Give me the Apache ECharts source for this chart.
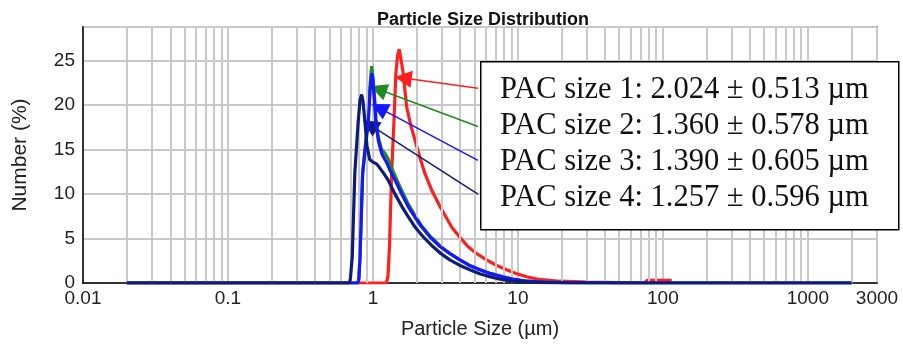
<!DOCTYPE html>
<html>
<head>
<meta charset="utf-8">
<script src="https://cdn.jsdelivr.net/npm/echarts@6/dist/echarts.min.js"></script>
<style>
  html, body {margin: 0; padding: 0; background: #fff;}
  #chart {width: 903px; height: 345px;}
</style>
</head>
<body>
<div id="chart"></div>
<script>
// PAC size 1 (red)
const pac1Size = [0.02, 1.24, 1.27, 1.30, 1.346, 1.395, 1.44, 1.48, 1.518, 1.56, 1.618, 1.707, 1.82, 1.948, 2.1, 2.28, 2.55, 2.9, 3.2, 3.49, 4.0, 4.52, 5.2, 6.08, 7.1, 8.36, 9.8, 11.5, 14, 19.5, 30, 50, 75, 78, 115];
const pac1Num = [0, 0, 0.8, 4, 12.4, 18, 23.6, 25.6, 26.3, 25.2, 23.6, 19.85, 17.8, 16.1, 14.2, 12.35, 10.4, 8.6, 7.4, 6.3, 5.1, 4.1, 3.3, 2.6, 2.0, 1.5, 1.05, 0.7, 0.4, 0.2, 0.1, 0.05, 0.05, 0.3, 0.3];

// PAC size 2 (green) and 3 (blue) share bins
const pac23Size = [0.02, 0.79, 0.80, 0.814, 0.849, 0.89, 0.928, 0.955, 0.98, 1.0, 1.025, 1.049, 1.09, 1.148, 1.18, 1.22, 1.27, 1.31, 1.418, 1.58, 1.75, 1.95, 2.17, 2.5, 2.9, 3.4, 3.98, 4.6, 5.47, 6.5, 7.87, 9.5, 11.5, 15, 22, 60, 2000];
const pac2Num = [0, 0, 0.5, 2.8, 12.2, 15.8, 18.5, 22.3, 24.4, 23.2, 21, 18.4, 16.4, 15.0, 14.8, 14.5, 14.0, 13.4, 12.1, 10.4, 8.9, 7.6, 6.4, 5.2, 4.2, 3.3, 2.6, 2.0, 1.5, 1.05, 0.7, 0.4, 0.2, 0.1, 0.05, 0.02, 0];
const pac3Num = [0, 0, 0.5, 2.9, 12.4, 15.5, 18, 21.5, 23.6, 22.8, 20.5, 18, 16.0, 14.6, 14.2, 13.8, 13.2, 12.7, 11.6, 10.0, 8.6, 7.4, 6.3, 5.1, 4.1, 3.3, 2.6, 2.0, 1.5, 1.05, 0.7, 0.4, 0.2, 0.1, 0.05, 0.02, 0];

// PAC size 4 (navy)
const pac4Size = [0.02, 0.69, 0.70, 0.72, 0.75, 0.79, 0.815, 0.836, 0.855, 0.88, 0.91, 0.95, 1.0, 1.06, 1.12, 1.19, 1.27, 1.42, 1.585, 1.76, 1.95, 2.25, 2.59, 2.95, 3.39, 3.95, 4.66, 5.45, 6.41, 7.7, 9.2, 12, 16, 24, 2000];
const pac4Num = [0, 0, 0.6, 2.9, 12.4, 18, 20.6, 21.2, 20.4, 18.2, 15.4, 13.9, 13.6, 13.4, 12.9, 12.3, 11.6, 10.0, 8.6, 7.4, 6.3, 5.1, 4.1, 3.3, 2.6, 2.0, 1.5, 1.05, 0.7, 0.4, 0.2, 0.1, 0.05, 0, 0];

const labels = [
  'PAC size 1: 2.024 \u00b1 0.513 \u00b5m',
  'PAC size 2: 1.360 \u00b1 0.578 \u00b5m',
  'PAC size 3: 1.390 \u00b1 0.605 \u00b5m',
  'PAC size 4: 1.257 \u00b1 0.596 \u00b5m'
];
const colors = ['#ff1f1f', '#1e8c1e', '#1616ff', '#0c1c78'];

// arrows: tail at the box, head on the curve  [size, number]
const arrowTail = [[5.3, 21.9], [5.3, 17.6], [5.3, 13.8], [5.3, 10.0]];
const arrowHead = [[1.618, 23.05], [1.09, 21.8], [1.105, 19.7], [0.954, 17.8]];

// minor log grid (2..9 per decade)
const minorGrid = [];
[0.01, 0.1, 1, 10, 100, 1000].forEach(d => {
  for (let k = 2; k <= 9; k++) {
    const v = +(d * k).toPrecision(3);
    if (v < 3000) minorGrid.push(v);
  }
});

const zip = (xs, ys) => xs.map((x, i) => [x, ys[i]]);
const seriesData = [
  zip(pac1Size, pac1Num),
  zip(pac23Size, pac2Num),
  zip(pac23Size, pac3Num),
  zip(pac4Size, pac4Num)
];

const gridColor = '#c9c9c9';
const sans = 'Liberation Sans, Arial, sans-serif';

const series = [{
  type: 'line',
  data: [],
  z: 1,
  silent: true,
  markLine: {
    silent: true,
    symbol: 'none',
    label: {show: false},
    lineStyle: {color: gridColor, width: 2, type: 'solid'},
    data: minorGrid.map(v => ({xAxis: v}))
  }
}];

seriesData.forEach((d, i) => {
  series.push({
    name: labels[i],
    type: 'line',
    data: d,
    showSymbol: false,
    symbol: 'none',
    z: 3 + i,
    lineStyle: {color: colors[i], width: 3.2},
    itemStyle: {color: colors[i]},
    markLine: {
      silent: true,
      symbol: ['none', 'triangle'],
      symbolSize: 17,
      label: {show: false},
      lineStyle: {color: colors[i], width: 1.5, type: 'solid'},
      data: [[{coord: arrowTail[i]}, {coord: arrowHead[i]}]]
    }
  });
});

const chart = echarts.init(document.getElementById('chart'), null, {renderer: 'canvas'});
chart.setOption({
  animation: false,
  title: {
    text: 'Particle Size Distribution',
    left: 377,
    top: 11,
    padding: 0,
    textStyle: {fontFamily: sans, fontSize: 18, fontWeight: 'bold', color: '#111'}
  },
  grid: {
    left: 83, right: 26, top: 27, bottom: 62,
    show: true, borderColor: '#000', borderWidth: 1.5
  },
  xAxis: {
    type: 'log',
    logBase: 10,
    min: 0.01,
    max: 3000,
    name: 'Particle Size (\u00b5m)',
    nameLocation: 'middle',
    nameGap: 36,
    nameTextStyle: {fontFamily: sans, fontSize: 20, color: '#222'},
    axisLine: {lineStyle: {color: '#000', width: 1.5}},
    axisTick: {show: false},
    axisLabel: {
      fontFamily: sans, fontSize: 19, color: '#222', margin: 6,
      formatter: v => String(+(+v).toPrecision(4))
    },
    splitLine: {show: true, lineStyle: {color: gridColor, width: 2}}
  },
  yAxis: {
    type: 'value',
    min: 0,
    max: 28.8,
    interval: 5,
    name: 'Number (%)',
    nameLocation: 'middle',
    nameGap: 52,
    nameTextStyle: {fontFamily: sans, fontSize: 21, color: '#222'},
    axisLine: {show: true, lineStyle: {color: '#000', width: 1.5}},
    axisTick: {show: false},
    axisLabel: {fontFamily: sans, fontSize: 19, color: '#222', margin: 8, showMaxLabel: false},
    splitLine: {show: true, lineStyle: {color: gridColor, width: 2}}
  },
  graphic: [{
    type: 'rect',
    left: 480,
    top: 61,
    z: 100,
    shape: {width: 418, height: 168},
    style: {fill: '#fff', stroke: '#000', lineWidth: 1.5}
  }, {
    type: 'text',
    left: 500,
    top: 72,
    z: 101,
    style: {
      text: labels.join('\n'),
      font: '30.5px "Liberation Serif", "Times New Roman", serif',
      lineHeight: 36,
      fill: '#111'
    }
  }],
  series
});
</script>
</body>
</html>
